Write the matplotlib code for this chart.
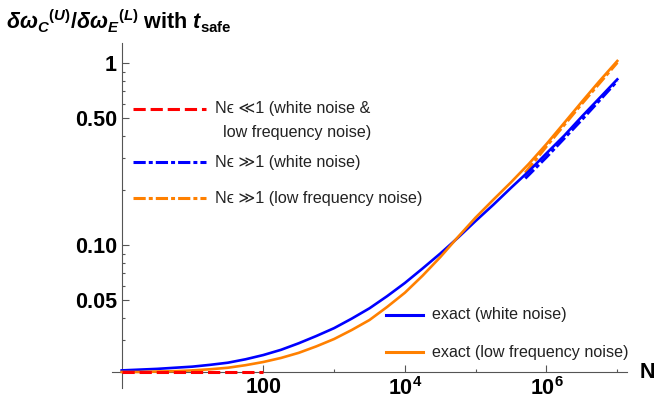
import matplotlib
matplotlib.use('Agg')
import matplotlib.pyplot as plt
from matplotlib.lines import Line2D
from matplotlib.ticker import NullFormatter

plt.rcParams['mathtext.fontset'] = 'custom'
plt.rcParams['mathtext.rm'] = 'Liberation Sans:bold'
plt.rcParams['mathtext.it'] = 'Liberation Sans:bold:italic'
plt.rcParams['mathtext.bf'] = 'Liberation Sans:bold'

# exact ratio, read every quarter decade from N = 1 to N = 1e7
log_n_exact = [0.0, 0.25, 0.5, 0.75, 1.0, 1.25, 1.5, 1.75, 2.0, 2.25, 2.5,
               2.75, 3.0, 3.25, 3.5, 3.75, 4.0, 4.25, 4.5, 4.75, 5.0, 5.25,
               5.5, 5.75, 6.0, 6.25, 6.5, 6.75, 7.0]
white_exact = [0.0205, 0.0207, 0.0209, 0.0212, 0.0215, 0.0220, 0.0226, 0.0236,
               0.0249, 0.0266, 0.0289, 0.0317, 0.0350, 0.0395, 0.0450, 0.0525,
               0.0620, 0.0745, 0.0900, 0.110, 0.136, 0.167, 0.207, 0.255,
               0.320, 0.400, 0.510, 0.645, 0.816]
lowfreq_exact = [0.0201, 0.0201, 0.0202, 0.0203, 0.0205, 0.0208, 0.0212, 0.0219,
                 0.0228, 0.0240, 0.0256, 0.0278, 0.0305, 0.0342, 0.0388, 0.0458,
                 0.0548, 0.0680, 0.0860, 0.111, 0.142, 0.178, 0.222, 0.280,
                 0.360, 0.470, 0.615, 0.800, 1.03]

# N*eps >> 1 limits
log_n_large = [5.7, 6.0, 6.5, 7.0]
white_large = [0.233, 0.305, 0.490, 0.800]
lowfreq_large = [0.250, 0.350, 0.600, 1.010]

# N*eps << 1 limit
n_small = [1, 100]
both_small = [0.02, 0.02]

x_major = [100, 1e4, 1e6]
x_major_labels = ['100', r'$\mathrm{10^{4}}$', r'$\mathrm{10^{6}}$']
x_minor = [10, 1e3, 1e5, 1e7]
y_major = [0.05, 0.1, 0.5, 1]
y_major_labels = ['0.05', '0.10', '0.50', '1']
y_minor = [0.02, 0.03, 0.04, 0.06, 0.07, 0.08, 0.09,
           0.2, 0.3, 0.4, 0.6, 0.7, 0.8, 0.9]

BLUE = '#0000ff'
ORANGE = '#ff8000'
RED = '#ff0000'
AXC = '#555555'
DASH = (0, (4, 1.6))
DASHDOT = (0, (4, 1, 1.3, 1))
FONT = ['Liberation Sans', 'DejaVu Sans']

n_exact = [10 ** k for k in log_n_exact]
n_large = [10 ** k for k in log_n_large]

W, H = 655, 412
fig = plt.figure(figsize=(W / 100, H / 100), dpi=100)
ax = fig.add_axes([112 / W, 1 - 388 / H, 514.7 / W, 344.7 / H])
ax.set_xscale('log')
ax.set_yscale('log')
ax.set_xlim(10 ** -0.137, 10 ** 7.133)
ax.set_ylim(10 ** -1.785, 10 ** 0.110)

for s in ['top', 'right']:
    ax.spines[s].set_visible(False)
ax.spines['left'].set_position(('data', 1))
ax.spines['bottom'].set_position(('data', 0.02))
for s in ['left', 'bottom']:
    ax.spines[s].set_color(AXC)
    ax.spines[s].set_linewidth(0.8)

ax.plot(n_large, white_large, color=BLUE, lw=2.2, ls=DASHDOT, zorder=3)
ax.plot(n_large, lowfreq_large, color=ORANGE, lw=2.2, ls=DASHDOT, zorder=3)
ax.plot(n_exact, white_exact, color=BLUE, lw=1.9, zorder=4)
ax.plot(n_exact, lowfreq_exact, color=ORANGE, lw=1.9, zorder=4)
ax.plot(n_small, both_small, color=RED, lw=2.2, ls=DASH, clip_on=False, zorder=5)

ax.set_xticks(x_major)
ax.set_xticklabels(x_major_labels)
ax.set_xticks(x_minor, minor=True)
ax.set_yticks(y_major)
ax.set_yticklabels(y_major_labels)
ax.set_yticks(y_minor, minor=True)
ax.xaxis.set_minor_formatter(NullFormatter())
ax.yaxis.set_minor_formatter(NullFormatter())
ax.tick_params(which='major', direction='in', length=5, width=0.8, color=AXC,
               labelsize=15.5, pad=3.5)
ax.tick_params(which='minor', direction='in', length=2.5, width=0.8, color=AXC)
for lab in ax.get_xticklabels() + ax.get_yticklabels():
    lab.set_fontweight('bold')
    lab.set_family('Liberation Sans')


def fx(x):
    return x / W


def fy(y):
    return 1 - y / H


fig.text(fx(6), fy(21),
         r'${\delta\omega_{C}}^{(U)}/{\delta\omega_{E}}^{(L)}$ with $t_{\mathrm{safe}}$',
         fontsize=15.5, fontweight='bold', family='Liberation Sans', va='center')
fig.text(fx(640), fy(372), 'N', fontsize=15.5, fontweight='bold',
         family='Liberation Sans', va='center')

# legend, top left
top_entries = [
    (109, RED, DASH, 'N\u03f5 \u226a1 (white noise &'),
    (162, BLUE, DASHDOT, 'N\u03f5 \u226b1 (white noise)'),
    (198, ORANGE, DASHDOT, 'N\u03f5 \u226b1 (low frequency noise)'),
]
for y, c, ls, lab in top_entries:
    fig.add_artist(Line2D([fx(133), fx(206)], [fy(y), fy(y)], color=c, lw=2.2,
                          ls=ls, transform=fig.transFigure))
    fig.text(fx(215), fy(y), lab, fontsize=11.6, color='#222222', family=FONT,
             va='center')
fig.text(fx(223), fy(132), 'low frequency noise)', fontsize=11.6,
         color='#222222', family=FONT, va='center')

# legend, bottom right
bottom_entries = [
    (315, BLUE, 'exact (white noise)'),
    (352, ORANGE, 'exact (low frequency noise)'),
]
for y, c, lab in bottom_entries:
    fig.add_artist(Line2D([fx(386), fx(423)], [fy(y), fy(y)], color=c, lw=2.2,
                          transform=fig.transFigure))
    fig.text(fx(432), fy(y), lab, fontsize=11.6, color='#222222', family=FONT,
             va='center')

fig.savefig('out.png', dpi=100)
